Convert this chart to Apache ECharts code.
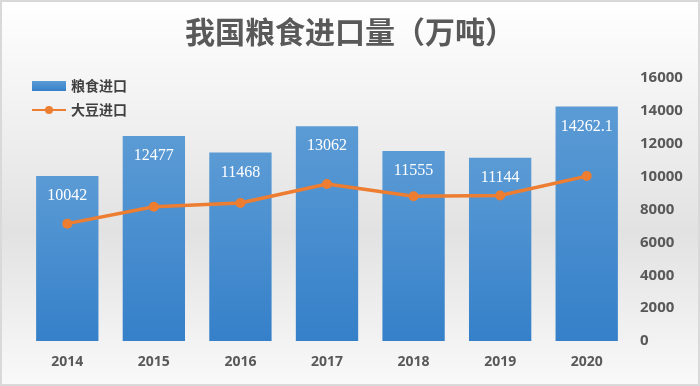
<!DOCTYPE html>
<html><head><meta charset="utf-8">
<script src="https://cdn.jsdelivr.net/npm/echarts@6/dist/echarts.min.js"></script>
<style>html,body{margin:0;padding:0;}#c{width:700px;height:386px;box-sizing:border-box;border:2px solid #d9d9d9;}</style>
</head><body><div id="c"></div>
<script>
var years = ['2014','2015','2016','2017','2018','2019','2020'];
var grainImports = [10042, 12477, 11468, 13062, 11555, 11144, 14262.1];
var soyImports = [7140, 8169, 8391, 9553, 8803, 8851, 10033];
var yTicks = [0, 2000, 4000, 6000, 8000, 10000, 12000, 14000, 16000];

var chart = echarts.init(document.getElementById('c'));
chart.setOption({
  animation: false,
  backgroundColor: new echarts.graphic.LinearGradient(0,0,0,1,[
    {offset:0,color:'#ffffff'},{offset:0.6,color:'#e2e2e2'},{offset:1,color:'#f9f9f9'}]),
  title: {text:'我国粮食进口量（万吨）', left:'center', top:10,
    textStyle:{fontFamily:'Noto Sans CJK SC', fontWeight:'bold', fontSize:30, color:'#595959'}},
  legend: {orient:'vertical', left:24, top:72, itemGap:10, itemWidth:34, itemHeight:10,
    textStyle:{fontFamily:'Noto Sans CJK SC', fontWeight:'bold', fontSize:14, color:'#404040'},
    data:[{name:'粮食进口', icon:'rect'}, {name:'大豆进口'}]},
  grid: {left:22, right:68, top:76, bottom:43, containLabel:false},
  xAxis: {type:'category', data:years,
    axisLine:{show:false}, axisTick:{show:false},
    axisLabel:{fontFamily:'Open Sans', fontWeight:'bold', fontSize:14, color:'#595959', margin:14}},
  yAxis: {type:'value', position:'right', min:yTicks[0], max:yTicks[yTicks.length-1], interval:2000,
    splitLine:{show:false}, axisLine:{show:false}, axisTick:{show:false},
    axisLabel:{fontFamily:'Open Sans', fontWeight:'bold', fontSize:15, color:'#595959', margin:10,
      verticalAlign:'middle', formatter:function(v){return String(v);}}},
  series: [
    {name:'粮食进口', type:'bar', data:grainImports, barCategoryGap:'28%',
     itemStyle:{color:new echarts.graphic.LinearGradient(0,0,0,1,[
       {offset:0,color:'#5b9bd5'},{offset:1,color:'#3580c9'}])},
     label:{show:true, position:'insideTop', distance:12, color:'#ffffff',
       fontFamily:'Liberation Serif', fontSize:16}},
    {name:'大豆进口', type:'line', data:soyImports, symbol:'circle', symbolSize:10,
     lineStyle:{color:'#ed7d31', width:3.5}, itemStyle:{color:'#ed7d31'}}
  ]
});
</script></body></html>
